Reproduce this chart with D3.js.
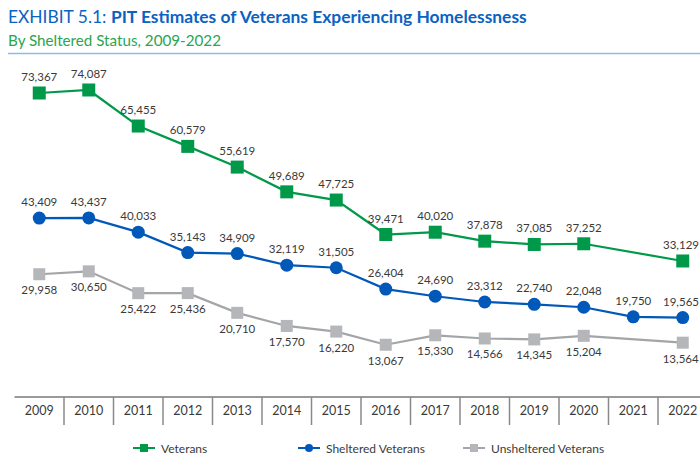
<!DOCTYPE html>
<html>
<head>
<meta charset="utf-8">
<script src="https://cdn.jsdelivr.net/npm/d3@7"></script>
<style>
  html, body { margin: 0; padding: 0; background: #fff; }
  svg { display: block; font-family: Lato, "Open Sans", sans-serif; }
</style>
</head>
<body>
<svg id="chart" width="700" height="456"></svg>
<script>
// Point-in-time counts by year; null marks a year with no published count
const years = ["2009","2010","2011","2012","2013","2014","2015","2016","2017","2018","2019","2020","2021","2022"];
const veterans = [73367, 74087, 65455, 60579, 55619, 49689, 47725, 39471, 40020, 37878, 37085, 37252, null, 33129];
const sheltered = [43409, 43437, 40033, 35143, 34909, 32119, 31505, 26404, 24690, 23312, 22740, 22048, 19750, 19565];
const unsheltered = [29958, 30650, 25422, 25436, 20710, 17570, 16220, 13067, 15330, 14566, 14345, 15204, null, 13564];
const seriesNames = ["Veterans", "Sheltered Veterans", "Unsheltered Veterans"];

const W = 700;
const svg = d3.select("#chart");
const fmt = d3.format(",");

const GREEN = "#00994a", BLUE = "#0058b9", GREY_LINE = "#a3a5a8", GREY_MARK = "#b4b6b9";
const TEXT = "#3a3a3a";

// Header
const title = svg.append("text").attr("x", 8).attr("y", 23)
  .attr("font-size", 17.4).attr("fill", "#0a62c2");
title.append("tspan").text("EXHIBIT 5.1: ");
title.append("tspan").attr("font-weight", "bold").text("PIT Estimates of Veterans Experiencing Homelessness");
svg.append("text").attr("x", 8).attr("y", 46)
  .attr("font-size", 15.2).attr("fill", "#2ba54f")
  .text("By Sheltered Status, 2009-2022");
svg.append("line").attr("x1", 8).attr("x2", W).attr("y1", 53.5).attr("y2", 53.5)
  .attr("stroke", "#8dbbe6").attr("stroke-width", 1.5);

// Scales
const x = d3.scaleBand().domain(years).range([14.5, 707.5]).padding(0);
const cx = d => x(d) + x.bandwidth() / 2;
const y = d3.scaleLinear().domain([0, 80000]).range([399.3, 65.3]);

// Category axis: baseline, dividers between years, year labels
const axisY = 397;
const xAxis = d3.axisBottom(x).tickSize(0).tickPadding(9);
const gx = svg.append("g").attr("transform", `translate(0,${axisY})`).call(xAxis);
gx.select(".domain").remove();
gx.selectAll("text").attr("font-size", 12.5).attr("fill", TEXT)
  .attr("font-family", "Lato, sans-serif");
svg.append("line").attr("x1", 14.5).attr("x2", W).attr("y1", axisY).attr("y2", axisY)
  .attr("stroke", "#9a9a9a").attr("stroke-width", 2);
svg.append("g").selectAll("line").data(years.slice(1)).join("line")
  .attr("x1", d => x(d)).attr("x2", d => x(d))
  .attr("y1", axisY).attr("y2", 425)
  .attr("stroke", "#8a8a8a").attr("stroke-width", 1.5);

// Series
const series = [
  { name: seriesNames[0], values: veterans, color: GREEN, line: GREEN, shape: "square", size: 13, labelDy: -12 },
  { name: seriesNames[1], values: sheltered, color: BLUE, line: BLUE, shape: "circle", size: 13, labelDy: -12 },
  { name: seriesNames[2], values: unsheltered, color: GREY_MARK, line: GREY_LINE, shape: "square", size: 12, labelDy: 20 }
];

const line = d3.line().x(d => cx(d.year)).y(d => y(d.value));

series.forEach(s => {
  const pts = years.map((yr, i) => ({ year: yr, value: s.values[i] })).filter(d => d.value != null);
  const g = svg.append("g");
  g.append("path").datum(pts).attr("d", line)
    .attr("fill", "none").attr("stroke", s.line).attr("stroke-width", 2.2);
  if (s.shape === "square") {
    g.selectAll("rect").data(pts).join("rect")
      .attr("x", d => cx(d.year) - s.size / 2).attr("y", d => y(d.value) - s.size / 2)
      .attr("width", s.size).attr("height", s.size).attr("fill", s.color);
  } else {
    g.selectAll("circle").data(pts).join("circle")
      .attr("cx", d => cx(d.year)).attr("cy", d => y(d.value))
      .attr("r", s.size / 2).attr("fill", s.color);
  }
  g.selectAll("text").data(pts).join("text")
    .attr("x", d => cx(d.year)).attr("y", d => y(d.value) + s.labelDy)
    .attr("text-anchor", "middle").attr("font-size", 11.5).attr("fill", TEXT)
    .text(d => fmt(d.value))
    .each(function () {
      // keep value labels inside the right edge of the page
      const b = this.getBBox();
      if (b.x + b.width > W - 1) {
        d3.select(this).attr("x", +d3.select(this).attr("x") - (b.x + b.width - (W - 1)));
      }
    });
});

// Legend
const legendY = 448;
const legendItems = [
  { s: series[0], x: 133 },
  { s: series[1], x: 298 },
  { s: series[2], x: 463 }
];
legendItems.forEach(({ s, x: lx }) => {
  const g = svg.append("g").attr("transform", `translate(${lx},${legendY})`);
  g.append("line").attr("x1", 0).attr("x2", 22).attr("stroke", s.line).attr("stroke-width", 2);
  if (s.shape === "square") {
    g.append("rect").attr("x", 11 - 4).attr("y", -4).attr("width", 8).attr("height", 8).attr("fill", s.color);
  } else {
    g.append("circle").attr("cx", 11).attr("r", 4).attr("fill", s.color);
  }
  g.append("text").attr("x", 28).attr("y", 4.5).attr("font-size", 12).attr("fill", TEXT).text(s.name);
});
</script>
</body>
</html>
